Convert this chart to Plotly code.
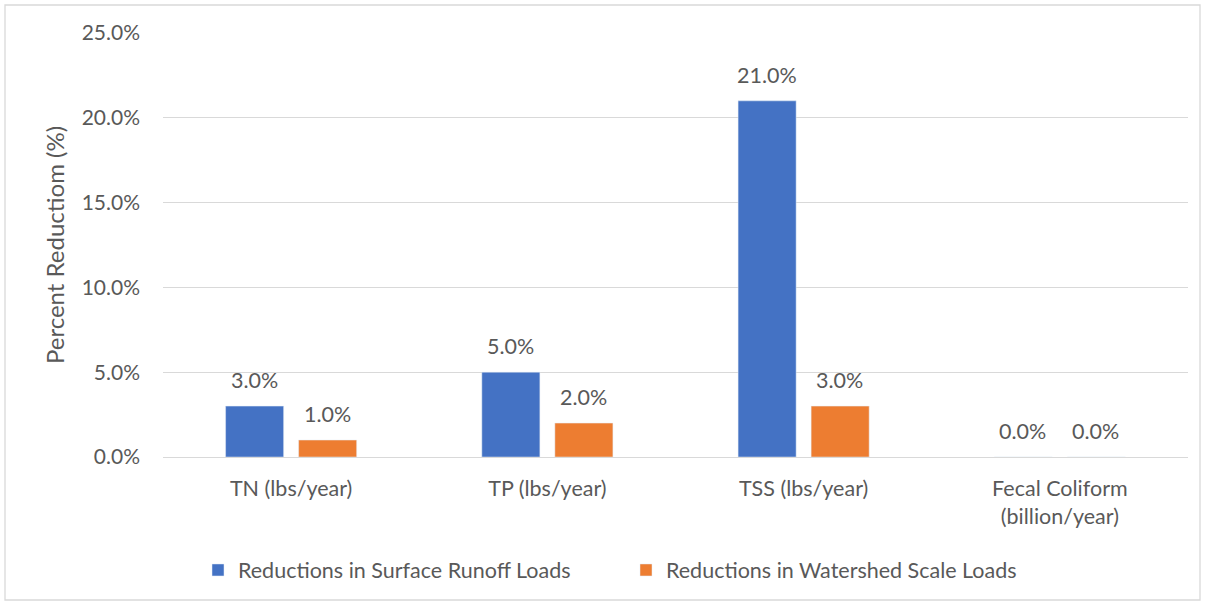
import plotly.graph_objects as go

categories = ["TN (lbs/year)", "TP (lbs/year)", "TSS (lbs/year)", "Fecal Coliform<br>(billion/year)"]
surface_runoff = [0.03, 0.05, 0.21, 0.0]
watershed_scale = [0.01, 0.02, 0.03, 0.0]
series_names = ["Reductions in Surface Runoff Loads", "Reductions in Watershed Scale Loads"]
y_ticks = [0, 0.05, 0.10, 0.15, 0.20, 0.25]

W, H = 1207, 605
ml, mr, mt, mb = 163, 19, 33, 148
pw, ph = W - ml - mr, H - mt - mb

FAM = "Lato, Open Sans, sans-serif"
GREY = "#595959"
font = dict(family=FAM, size=21, color=GREY)
lab_font = dict(family=FAM, size=21.5, color=GREY)

fig = go.Figure()
for vals, name, color in [(surface_runoff, series_names[0], "#4472C4"),
                          (watershed_scale, series_names[1], "#ED7D31")]:
    fig.add_trace(go.Bar(x=categories, y=vals, name=name, marker_color=color))

# data labels above bars
for vals, xs in [(surface_runoff, -37), (watershed_scale, 36)]:
    for c, v in zip(categories, vals):
        fig.add_annotation(x=c, y=v, text=f"{v*100:.1f}%", showarrow=False,
                           xshift=xs, yshift=11, yanchor="bottom", font=lab_font)

fig.update_layout(
    width=W, height=H,
    margin=dict(l=ml, r=mr, t=mt, b=mb),
    paper_bgcolor="white", plot_bgcolor="white",
    font=font,
    barmode="group", bargap=0.43, bargroupgap=0.205,
    showlegend=True,
    legend=dict(orientation="h", x=(198 - ml) / pw, xanchor="left", y=-(570 - (H - mb)) / ph,
                yanchor="middle", font=dict(family=FAM, size=21.5, color=GREY),
                traceorder="normal", entrywidth=383, entrywidthmode="pixels"),
    yaxis=dict(range=[0, 0.25], tickvals=y_ticks, tickformat=".1%",
               showgrid=True, gridcolor="#D9D9D9", gridwidth=1.3,
               zeroline=False, showline=False, ticks="",
               ticklabelstandoff=22, tickfont=font,
               title=dict(text="Percent Reductiom (%)", font=dict(family=FAM, size=24, color=GREY), standoff=10)),
    xaxis=dict(showline=True, linecolor="#D9D9D9", linewidth=1.3, ticks="",
               tickfont=lab_font, ticklabelstandoff=12),
)

# outer chart border
fig.add_shape(type="rect", xref="paper", yref="paper",
              x0=(5 - ml) / pw, x1=(1200 - ml) / pw,
              y0=-(600 - (H - mb)) / ph, y1=1 + (mt - 5) / ph,
              line=dict(color="#D9D9D9", width=1.3), layer="below")

fig.write_html("out.html", config={"displayModeBar": False},
               post_script="document.body.style.margin='0';document.body.style.overflow='hidden';")
